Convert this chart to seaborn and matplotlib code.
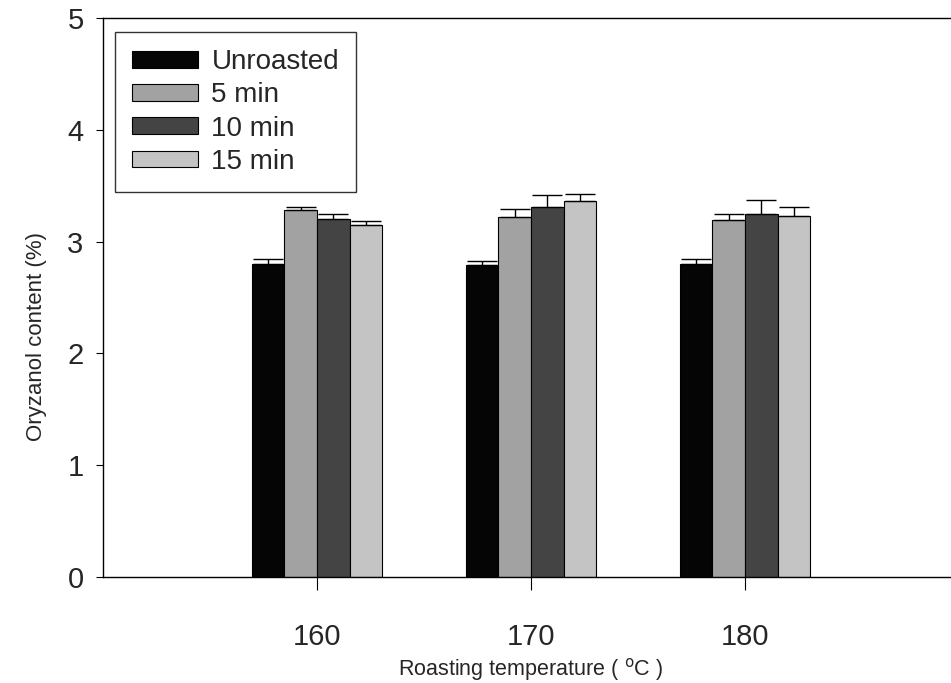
import matplotlib
matplotlib.use("Agg")
import matplotlib.pyplot as plt
import numpy as np
import pandas as pd
import seaborn as sns

# Oryzanol content of rice bran roasted at three temperatures
temperatures = ["160", "170", "180"]
treatments = ["Unroasted", "5 min", "10 min", "15 min"]
unroasted = [2.80, 2.79, 2.80]
min5 = [3.28, 3.22, 3.19]
min10 = [3.20, 3.31, 3.25]
min15 = [3.15, 3.36, 3.23]
err_unroasted = [0.04, 0.04, 0.04]
err_min5 = [0.03, 0.07, 0.06]
err_min10 = [0.05, 0.11, 0.12]
err_min15 = [0.03, 0.07, 0.08]

values = [unroasted, min5, min10, min15]
errors = [err_unroasted, err_min5, err_min10, err_min15]

df = pd.DataFrame({
    "temp": [t for _ in treatments for t in temperatures],
    "treatment": [tr for tr in treatments for _ in temperatures],
    "value": [v for series in values for v in series],
    "err": [e for series in errors for e in series],
})

sns.set_style("ticks")
plt.rcParams["font.family"] = ["Liberation Sans", "DejaVu Sans"]

fig = plt.figure(figsize=(9.51, 6.83), dpi=100)
ax = fig.add_axes([103 / 951, 1 - 577 / 683, 856 / 951, (577 - 18) / 683])

palette = {"Unroasted": "#050505", "5 min": "#a2a2a2",
           "10 min": "#444444", "15 min": "#c4c4c4"}

sns.barplot(data=df, x="temp", y="value", hue="treatment",
            order=temperatures, hue_order=treatments, palette=palette,
            width=0.61, errorbar=None, edgecolor="black", linewidth=0.8,
            saturation=1, ax=ax)

# upper error bars at each bar centre
for patch_group, tr in zip(ax.containers, treatments):
    sub = df[df["treatment"] == tr].set_index("temp").loc[temperatures]
    xs = [p.get_x() + p.get_width() / 2 for p in patch_group]
    ax.errorbar(xs, sub["value"], yerr=[np.zeros(len(xs)), sub["err"]],
                fmt="none", ecolor="black", elinewidth=1.0,
                capsize=11, capthick=1.0)

ax.set_xlim(-1, 3)
ax.set_ylim(0, 5)
ax.set_yticks(range(0, 6))
ax.tick_params(axis="both", labelsize=21, width=0.8, color="black")
ax.tick_params(axis="x", length=9, pad=24)
ax.tick_params(axis="y", length=5, pad=9)

for side in ["left", "bottom", "top"]:
    ax.spines[side].set_color("black")
    ax.spines[side].set_linewidth(1.0)
ax.spines["right"].set_visible(False)

ax.set_xlabel("Roasting temperature ( $^{\\mathrm{o}}$C )", fontsize=15.5)
ax.xaxis.set_label_coords(0.5, -0.141)
ax.set_ylabel("Oryzanol content (%)", fontsize=16)
ax.yaxis.set_label_coords(-0.066, 0.43)

leg = ax.legend(loc="upper left", bbox_to_anchor=(12 / 856, 1 - 14 / 559),
                fontsize=20, frameon=True, fancybox=False, edgecolor="black",
                handlelength=2.35, handleheight=0.55, handletextpad=0.5,
                labelspacing=0.26, borderpad=0.62, borderaxespad=0)
leg.get_frame().set_linewidth(1.0)

fig.savefig("out.png", dpi=100)
